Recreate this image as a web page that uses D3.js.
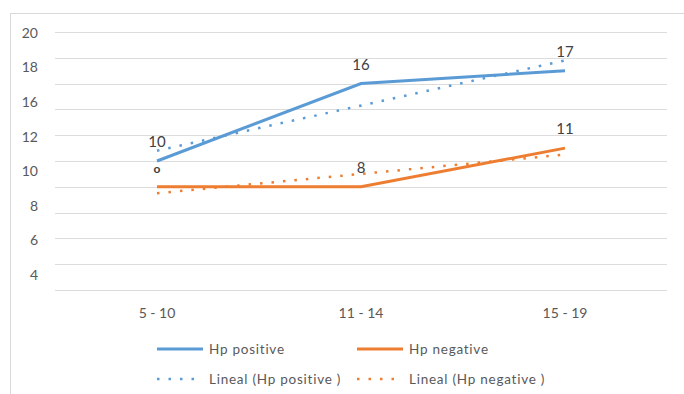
<!DOCTYPE html>
<html>
<head>
<meta charset="utf-8">
<script src="https://cdn.jsdelivr.net/npm/d3@7"></script>
<style>
  body { margin: 0; background: #fff; }
  svg { font-family: Lato, "Open Sans", sans-serif; }
</style>
</head>
<body>
<svg id="chart" width="684" height="394"></svg>
<script>
const categories = ["5 - 10", "11 - 14", "15 - 19"];
const hpPositive = [10, 16, 17];
const hpNegative = [8, 8, 11];
const posLabels = ["10", "16", "17"];
const negLabels = ["o", "8", "11"];
// linear trend ends (first, last category)
const trendPositive = [10.8, 17.8];
const trendNegative = [7.5, 10.5];
const gridValues = [0, 2, 4, 6, 8, 10, 12, 14, 16, 18, 20];
const yTickLabels = ["20", "18", "16", "12", "10", "8", "6", "4"];

const blue = "#5b9bd5", orange = "#ed7d31";
const svg = d3.select("#chart");

svg.append("rect")
    .attr("x", 10.5).attr("y", 13.5)
    .attr("width", 690).attr("height", 400)
    .attr("fill", "none").attr("stroke", "#d9d9d9");

const x = d3.scaleBand().domain(categories).range([55, 667]);
const y = d3.scaleLinear().domain([0, 20]).range([290, 32]);
const cx = d => x(d) + x.bandwidth() / 2;

svg.append("g")
    .selectAll("line")
    .data(gridValues)
    .enter()
    .append("line")
    .attr("x1", 55).attr("x2", 667)
    .attr("y1", d => Math.round(y(d)) + 0.5)
    .attr("y2", d => Math.round(y(d)) + 0.5)
    .attr("stroke", "#dcdcdc")
    .attr("stroke-width", 1);

// the tick labels in the source sit on their own spacing, not on the grid
const yLab = d3.scalePoint().domain(yTickLabels).range([33, 275]);
svg.append("g")
    .selectAll("text")
    .data(yTickLabels)
    .enter()
    .append("text")
    .attr("x", 38)
    .attr("y", d => yLab(d))
    .attr("dy", "0.35em")
    .attr("text-anchor", "end")
    .style("font-size", "14px")
    .style("fill", "#595959")
    .text(d => d);

svg.append("g")
    .selectAll("text")
    .data(categories)
    .enter()
    .append("text")
    .attr("x", d => cx(d))
    .attr("y", 313)
    .attr("dy", "0.35em")
    .attr("text-anchor", "middle")
    .style("font-size", "14px")
    .style("fill", "#595959")
    .text(d => d);

const line = d3.line().x(d => cx(d.c)).y(d => y(d.v));
const toPts = vals => vals.map((v, i) => ({ c: categories[i], v }));
const trendPts = vals => [{ c: categories[0], v: vals[0] }, { c: categories[categories.length - 1], v: vals[1] }];

const dotted = "2.5 9";
svg.append("path").datum(trendPts(trendPositive))
    .attr("d", line).attr("fill", "none")
    .attr("stroke", blue).attr("stroke-width", 2.5).attr("stroke-dasharray", dotted);
svg.append("path").datum(trendPts(trendNegative))
    .attr("d", line).attr("fill", "none")
    .attr("stroke", orange).attr("stroke-width", 2.5).attr("stroke-dasharray", dotted);

svg.append("path").datum(toPts(hpPositive))
    .attr("d", line).attr("fill", "none")
    .attr("stroke", blue).attr("stroke-width", 3);
svg.append("path").datum(toPts(hpNegative))
    .attr("d", line).attr("fill", "none")
    .attr("stroke", orange).attr("stroke-width", 3);

function addLabels(vals, labels) {
    svg.append("g")
        .selectAll("text")
        .data(vals)
        .enter()
        .append("text")
        .attr("x", (d, i) => cx(categories[i]))
        .attr("y", d => y(d) - 14)
        .attr("text-anchor", "middle")
        .style("font-size", (d, i) => labels[i] === "o" ? "12px" : "15px")
        .style("font-weight", (d, i) => labels[i] === "o" ? "bold" : null)
        .style("fill", "#404040")
        .text((d, i) => labels[i]);
}
addLabels(hpPositive, posLabels);
addLabels(hpNegative, negLabels);

const legend = [
    { name: "Hp positive", color: blue, dash: null, x: 157, y: 349, w: 46 },
    { name: "Hp negative", color: orange, dash: null, x: 357, y: 349, w: 46 },
    { name: "Lineal (Hp positive )", color: blue, dash: dotted, x: 157, y: 379, w: 42 },
    { name: "Lineal (Hp negative )", color: orange, dash: dotted, x: 357, y: 379, w: 42 }
];
const lg = svg.append("g").selectAll("g").data(legend).enter().append("g");
lg.append("line")
    .attr("x1", d => d.x).attr("x2", d => d.x + d.w)
    .attr("y1", d => d.y).attr("y2", d => d.y)
    .attr("stroke", d => d.color)
    .attr("stroke-width", d => d.dash ? 2.5 : 3)
    .attr("stroke-dasharray", d => d.dash);
lg.append("text")
    .attr("x", d => d.x + 52)
    .attr("y", d => d.y)
    .attr("dy", "0.35em")
    .style("font-size", "13.5px")
    .style("letter-spacing", "0.75px")
    .style("fill", "#595959")
    .text(d => d.name);
</script>
</body>
</html>
